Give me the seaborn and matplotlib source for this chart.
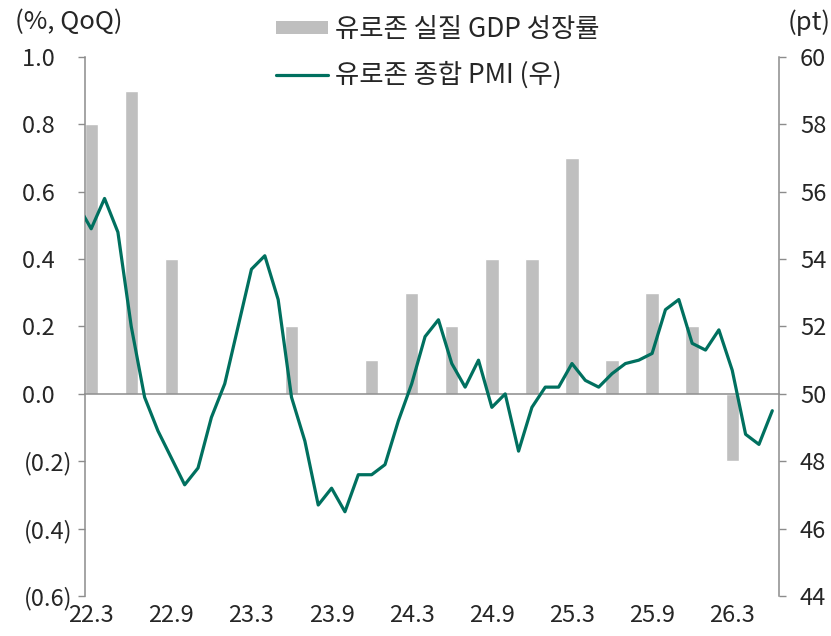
import pandas as pd
import seaborn as sns
import matplotlib.pyplot as plt
from matplotlib.patches import Patch
from matplotlib.lines import Line2D

# 유로존 종합 PMI (pt), 월별: 22.2 ~ 26.6
pmi_start = '2022-02'
pmi = [55.6, 54.9, 55.8, 54.8, 52.0, 49.9, 48.9, 48.1, 47.3, 47.8, 49.3, 50.3,
       52.0, 53.7, 54.1, 52.8, 49.9, 48.6, 46.7, 47.2, 46.5, 47.6, 47.6, 47.9,
       49.2, 50.3, 51.7, 52.2, 50.9, 50.2, 51.0, 49.6, 50.0, 48.3, 49.6, 50.2,
       50.2, 50.9, 50.4, 50.2, 50.6, 50.9, 51.0, 51.2, 52.5, 52.8, 51.5, 51.3,
       51.9, 50.7, 48.8, 48.5, 49.5]

# 유로존 실질 GDP 성장률 (%, QoQ), 분기별
gdp_quarters = ['2022-03', '2022-06', '2022-09', '2022-12', '2023-03', '2023-06',
                '2023-09', '2023-12', '2024-03', '2024-06', '2024-09', '2024-12',
                '2025-03', '2025-06', '2025-09', '2025-12', '2026-03']
gdp = [0.8, 0.9, 0.4, 0.0, 0.0, 0.2, 0.0, 0.1, 0.3, 0.2, 0.4, 0.4, 0.7, 0.1, 0.3, 0.2, -0.2]

tick_labels = ['22.3', '22.9', '23.3', '23.9', '24.3', '24.9', '25.3', '25.9', '26.3']
left_ticks = [1.0, 0.8, 0.6, 0.4, 0.2, 0.0, -0.2, -0.4, -0.6]
right_ticks = [60, 58, 56, 54, 52, 50, 48, 46, 44]

bar_color = '#BFBFBF'
line_color = '#00705F'
axis_color = '#8C8C8C'

sns.set_style('white')
plt.rcParams['font.family'] = ['Noto Sans CJK KR', 'DejaVu Sans']

# month index counted from 22.3 (category position on x axis)
base = pd.Period('2022-03', freq='M')
pmi_df = pd.DataFrame({'month': pd.period_range(pmi_start, periods=len(pmi), freq='M'), 'pmi': pmi})
pmi_df['pos'] = [(m - base).n for m in pmi_df['month']]
gdp_df = pd.DataFrame({'month': [pd.Period(q, freq='M') for q in gdp_quarters], 'gdp': gdp})
gdp_df['pos'] = [(m - base).n for m in gdp_df['month']]
n_months = (pd.Period('2026-06', freq='M') - base).n + 1
label_pos = [(pd.Period('20' + t.replace('.', '-'), freq='M') - base).n for t in tick_labels]

fig = plt.figure(figsize=(8.31, 6.36), dpi=100)
ax = fig.add_axes([0.1017, 0.0629, 0.8357, 0.8475])

sns.barplot(data=gdp_df, x='pos', y='gdp', native_scale=True, width=1 / 3,
            color=bar_color, saturation=1, errorbar=None, ax=ax)
ax.set_xlim(-0.5, n_months - 0.5)
ax.set_ylim(-0.6, 1.0)
ax.set_yticks(left_ticks)
# Excel style: negatives in brackets, positives padded so digits line up
ax.set_yticklabels([f'({abs(v):.1f})' if v < 0 else f'{v:.1f}\u2002 ' for v in left_ticks])
ax.set_xlabel('')
ax.set_ylabel('')

# zero line with boundary tick marks
ax.spines['bottom'].set_position(('data', 0))
ax.spines['bottom'].set_color(axis_color)
ax.spines['bottom'].set_linewidth(1.1)
ax.set_xticks([p - 0.5 for p in label_pos[1:]])
ax.set_xticklabels([])
ax.tick_params(axis='x', direction='out', length=4.5, width=1, color=axis_color)
ax.spines['left'].set_color(axis_color)
ax.spines['left'].set_linewidth(1.1)
ax.spines['top'].set_visible(False)
ax.spines['right'].set_visible(False)
ax.tick_params(axis='y', left=True, direction='out', length=5, width=1, color=axis_color,
               labelsize=17, pad=4)

sec = ax.secondary_xaxis('bottom')
sec.set_xticks(label_pos, labels=tick_labels)
sec.tick_params(length=0, labelsize=17, pad=5.5)
sec.spines['bottom'].set_visible(False)

ax2 = ax.twinx()
sns.lineplot(data=pmi_df, x='pos', y='pmi', color=line_color, linewidth=2.3, ax=ax2)
ax2.set_xlim(-0.5, n_months - 0.5)
ax2.set_ylim(44, 60)
ax2.set_yticks(right_ticks)
ax2.set_ylabel('')
ax2.set_xlabel('')
for s in ['top', 'bottom', 'left']:
    ax2.spines[s].set_visible(False)
ax2.spines['right'].set_color(axis_color)
ax2.spines['right'].set_linewidth(1.1)
ax2.tick_params(axis='y', right=True, direction='out', length=5, width=1, color=axis_color,
                labelsize=17, pad=10)

fig.text(0.018, 0.965, '(%, QoQ)', fontsize=18.5, va='center', ha='left')
fig.text(0.999, 0.965, '(pt)', fontsize=18.5, va='center', ha='right')

handles = [Patch(facecolor=bar_color, edgecolor='none'),
           Line2D([], [], color=line_color, linewidth=2.3)]
fig.legend(handles, ['유로존 실질 GDP 성장률', '유로존 종합 PMI (우)'],
           loc='upper left', bbox_to_anchor=(0.332, 0.975), frameon=False,
           borderpad=0, borderaxespad=0, handlelength=1.97, handleheight=0.42,
           handletextpad=0.27, labelspacing=0.7, prop={'size': 19})

fig.savefig('out.png', dpi=100)
